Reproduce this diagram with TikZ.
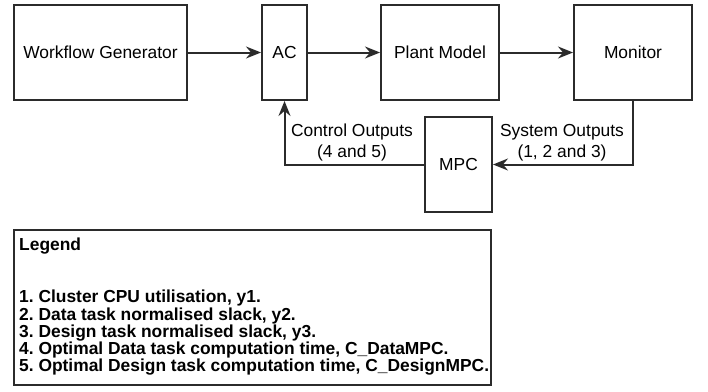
\documentclass[tikz,border=0pt]{standalone}
\usepackage{fontspec}
\setmainfont{Liberation Sans}
\usetikzlibrary{arrows.meta}
\definecolor{linec}{HTML}{2B2B2B}
\frenchspacing
\tikzset{
  blk/.style={draw=linec, line width=2pt, inner sep=0pt, minimum height=95pt, align=center,
    font=\fontsize{17.4}{20}\selectfont, text=black},
  conn/.style={draw=linec, line width=2pt, -{Stealth[length=15pt,width=12pt,inset=5pt]}},
  lbl/.style={inner sep=0pt, align=center, font=\fontsize{17.4}{21}\selectfont},
}
\begin{document}
\begin{tikzpicture}[x=1pt,y=-1pt]
\useasboundingbox (0,0) rectangle (708,391);
\node[blk, minimum width=173pt] (wg) at (100.5,52.5) {Workflow Generator};
\node[blk, minimum width=45pt] (ac) at (284.5,52.5) {AC};
\node[blk, minimum width=118pt] (pm) at (440,52.5) {Plant Model};
\node[blk, minimum width=118pt] (mon) at (633,52.5) {Monitor};
\node[blk, minimum width=67pt] (mpc) at (458.5,164.5) {MPC};
\node[draw=linec, line width=2pt, minimum width=477pt, minimum height=155pt, inner sep=0pt] (leg) at (252.5,307.5) {};
\node[anchor=north west, inner sep=0pt, align=left, font=\fontsize{17.4}{17.3}\selectfont\bfseries\frenchspacing] (legtxt) at (19,238)
  {Legend\\[34.6pt]
   1. Cluster CPU utilisation, y1.\\
   2. Data task normalised slack, y2.\\
   3. Design task normalised slack, y3.\\
   4. Optimal Data task computation time, C\_DataMPC.\\
   5. Optimal Design task computation time, C\_DesignMPC.};
\draw[conn] (wg) -- (ac);
\draw[conn] (ac) -- (pm);
\draw[conn] (pm) -- (mon);
\draw[conn] (mon.south) |- (mpc.east);
\draw[conn] (mpc.west) -| (ac.south);
\node[lbl] (cl) at (352,142.5) {Control Outputs\\(4 and 5)};
\node[lbl] (sl) at (562,142.5) {System Outputs\\(1, 2 and 3)};
\end{tikzpicture}
\end{document}
